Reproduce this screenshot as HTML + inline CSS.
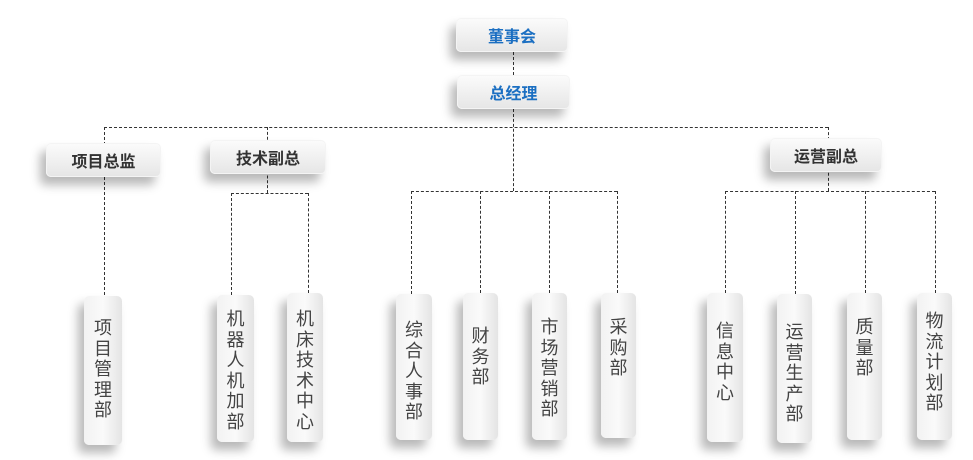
<!DOCTYPE html><html><head><meta charset="utf-8"><style>
body{margin:0;width:973px;height:460px;background:#fff;position:relative;overflow:hidden;font-family:"Liberation Sans","Noto Sans CJK SC",sans-serif}
.b{position:absolute;border-radius:5px;background:linear-gradient(#fbfbfb,#e6e6e6);box-shadow:-6px 8px 10px rgba(0,0,0,.28);border:1px solid #f4f4f4;box-sizing:border-box;display:flex;align-items:center;justify-content:center;font-weight:bold;font-size:16px;color:#333}
.blue{color:#1b6fc2}
.v{position:absolute;border-radius:5px;background:linear-gradient(90deg,#f2f2f2,#fafafa 50%,#e4e4e4);box-shadow:-6px 8px 10px rgba(0,0,0,.28);box-sizing:border-box;font-size:18px;color:#444;text-align:center;line-height:20.5px;padding-top:22px}
.h{position:absolute;border-top:1.5px dashed #333;height:0}
.l{position:absolute;border-left:1.5px dashed #333;width:0}
</style></head><body>
<div class="l" style="left:513px;top:52px;height:23px"></div>
<div class="l" style="left:513px;top:109px;height:82px"></div>
<div class="h" style="left:104px;top:127px;width:724px"></div>
<div class="l" style="left:104px;top:127px;height:168px"></div>
<div class="l" style="left:267px;top:127px;height:66px"></div>
<div class="l" style="left:828px;top:127px;height:64px"></div>
<div class="h" style="left:231px;top:193px;width:77px"></div>
<div class="l" style="left:231px;top:193px;height:102px"></div>
<div class="l" style="left:308px;top:193px;height:100px"></div>
<div class="h" style="left:411px;top:191px;width:206px"></div>
<div class="l" style="left:411px;top:191px;height:103px"></div>
<div class="l" style="left:480px;top:191px;height:102px"></div>
<div class="l" style="left:549px;top:191px;height:102px"></div>
<div class="l" style="left:617px;top:191px;height:102px"></div>
<div class="h" style="left:725px;top:191px;width:210px"></div>
<div class="l" style="left:725px;top:191px;height:102px"></div>
<div class="l" style="left:795px;top:191px;height:103px"></div>
<div class="l" style="left:865px;top:191px;height:102px"></div>
<div class="l" style="left:935px;top:191px;height:102px"></div>

<div class="b blue" style="left:456px;top:18px;width:112px;height:34px">董事会</div>
<div class="b blue" style="left:457px;top:75px;width:113px;height:34px">总经理</div>
<div class="b" style="left:46px;top:143px;width:115px;height:34px">项目总监</div>
<div class="b" style="left:210px;top:140px;width:116px;height:34px">技术副总</div>
<div class="b" style="left:770px;top:138px;width:112px;height:34px">运营副总</div>

<div class="v" style="left:84px;top:296px;width:38px;height:149px">项<br>目<br>管<br>理<br>部</div>
<div class="v" style="left:217px;top:295px;width:37px;height:147px;padding-top:14px">机<br>器<br>人<br>机<br>加<br>部</div>
<div class="v" style="left:287px;top:293px;width:36px;height:149px;padding-top:16px">机<br>床<br>技<br>术<br>中<br>心</div>
<div class="v" style="left:396px;top:294px;width:36px;height:146px;padding-top:26px">综<br>合<br>人<br>事<br>部</div>
<div class="v" style="left:463px;top:293px;width:35px;height:147px;padding-top:33px">财<br>务<br>部</div>
<div class="v" style="left:532px;top:293px;width:35px;height:147px;padding-top:24px">市<br>场<br>营<br>销<br>部</div>
<div class="v" style="left:601px;top:293px;width:35px;height:145px;padding-top:24px">采<br>购<br>部</div>
<div class="v" style="left:707px;top:293px;width:36px;height:149px;padding-top:28px">信<br>息<br>中<br>心</div>
<div class="v" style="left:777px;top:294px;width:35px;height:149px;padding-top:28px">运<br>营<br>生<br>产<br>部</div>
<div class="v" style="left:847px;top:293px;width:35px;height:147px;padding-top:24px">质<br>量<br>部</div>
<div class="v" style="left:917px;top:293px;width:35px;height:147px;padding-top:18px">物<br>流<br>计<br>划<br>部</div>
</body></html>
